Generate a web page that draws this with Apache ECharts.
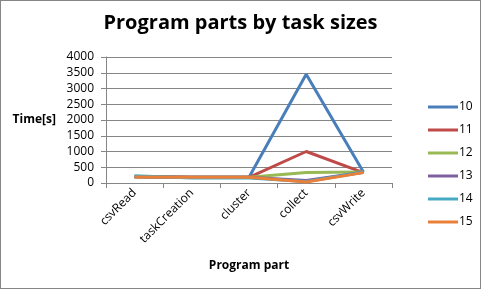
<!DOCTYPE html>
<html><head><meta charset="utf-8">
<script src="https://cdn.jsdelivr.net/npm/echarts@6/dist/echarts.min.js"></script>
<style>html,body{margin:0;padding:0;background:#fff}#c{width:481px;height:289px;box-sizing:border-box;border:1px solid #868686}</style>
</head><body><div id="c"></div>
<script>
const categories = ['csvRead','taskCreation','cluster','collect','csvWrite'];
const seriesNames = ['10','11','12','13','14','15'];
const s10 = [200,180,180,3450,350];
const s11 = [200,180,180,1000,330];
const s12 = [200,180,180,330,350];
const s13 = [200,180,180,80,340];
const s14 = [230,160,160,50,340];
const s15 = [190,180,180,30,330];
const yTicks = [0,500,1000,1500,2000,2500,3000,3500,4000];
const colors = ['#4A7EBB','#BE4B48','#98B954','#7D60A0','#46AAC5','#E8803A'];
const values = [s10,s11,s12,s13,s14,s15];
const chart = echarts.init(document.getElementById('c'));
const font = 'Open Sans, Liberation Sans, sans-serif';
chart.setOption({
  animation:false,
  color:colors,
  title:{text:'Program parts by task sizes',left:'center',top:7,textStyle:{fontSize:20,fontWeight:'bold',color:'#000',fontFamily:font}},
  legend:{orient:'vertical',left:422,top:93,itemWidth:30,itemHeight:3,itemGap:7,icon:'rect',textStyle:{fontSize:12,color:'#000',fontFamily:font,padding:[0,0,0,-4],lineHeight:16},data:seriesNames},
  grid:{left:105,right:88,top:56,bottom:105,containLabel:false},
  xAxis:{type:'category',data:categories,boundaryGap:true,
    name:'Program part',nameLocation:'middle',nameGap:77,nameTextStyle:{fontSize:12,fontWeight:'bold',color:'#000',fontFamily:font},
    axisLine:{lineStyle:{color:'#868686'}},axisTick:{show:true,alignWithLabel:false,length:5,lineStyle:{color:'#868686'}},
    axisLabel:{rotate:45,fontSize:12,color:'#000',fontFamily:font,margin:8,interval:0}},
  yAxis:{type:'value',min:0,max:4000,interval:500,
    name:'Time[s]',nameLocation:'middle',nameRotate:0,nameGap:50,nameTextStyle:{fontSize:12,fontWeight:'bold',color:'#000',fontFamily:font},
    axisLine:{show:true,lineStyle:{color:'#868686'}},axisTick:{show:true,length:5,lineStyle:{color:'#868686'}},
    splitLine:{lineStyle:{color:'#868686'}},
    axisLabel:{fontSize:12,color:'#000',fontFamily:font,margin:12,customValues:yTicks,formatter:v=>String(v)}},
  series:values.map((v,i)=>({name:seriesNames[i],type:'line',data:v,symbol:'none',lineStyle:{width:3},z:2+i}))
});
</script></body></html>
